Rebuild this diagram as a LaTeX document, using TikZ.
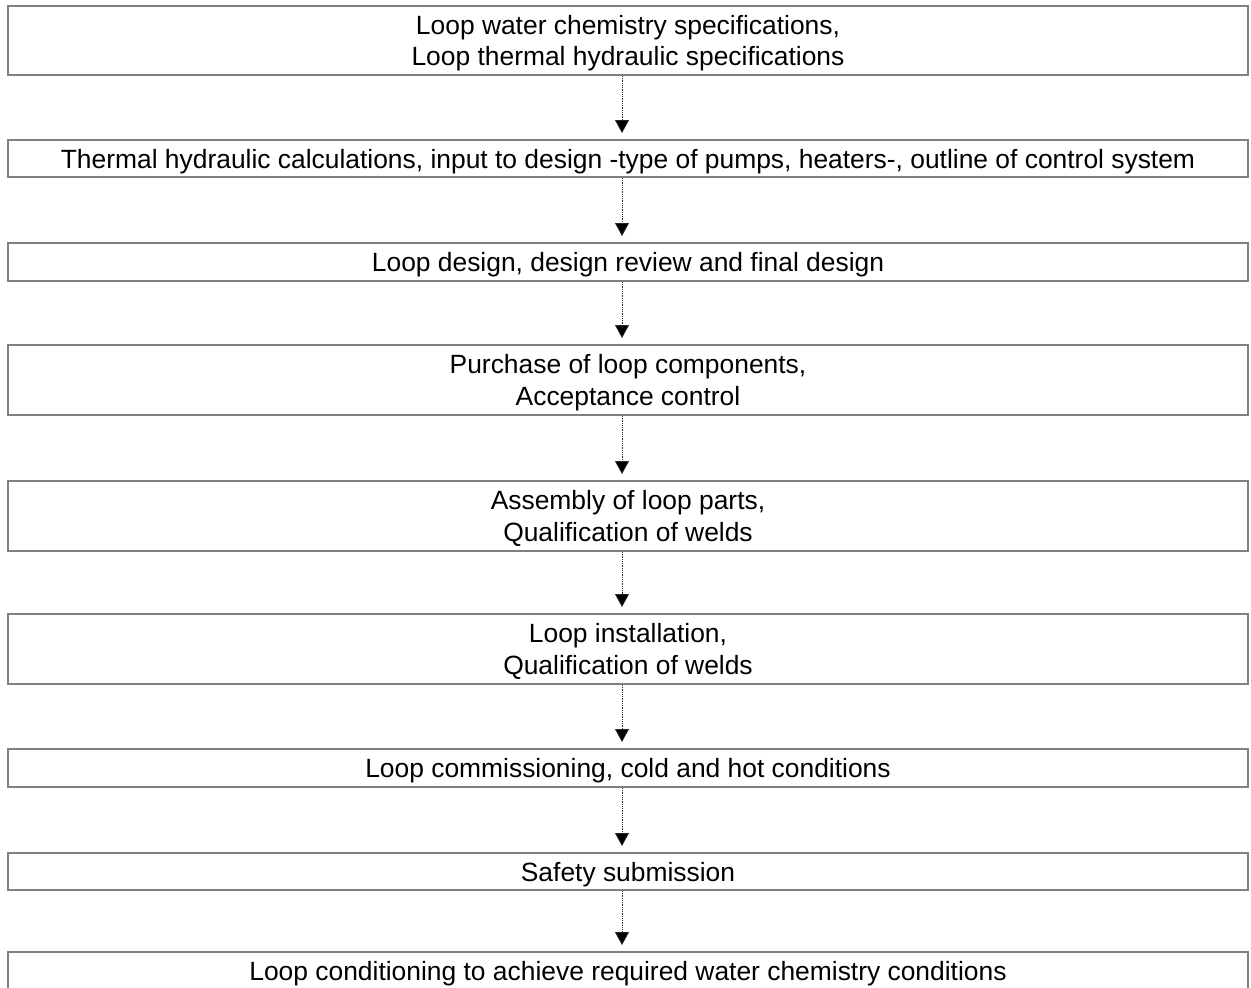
\documentclass[tikz,border=0pt]{standalone}
\usepackage{fontspec}
\setmainfont{Liberation Sans}
\usetikzlibrary{arrows.meta}
\definecolor{boxgray}{HTML}{808080}
\tikzset{
  stagebox/.style={draw=boxgray, line width=2pt, inner sep=0pt, minimum width=1240pt,
    align=center, text depth=0pt, font=\fontsize{26.4}{31.5}\selectfont},
  flowarrow/.style={densely dotted, line width=0.8pt, draw=black!85,
    -{Triangle[width=14pt,length=13pt,fill=black]}, shorten >=6pt},
}
\begin{document}
\begin{tikzpicture}[x=1pt,y=-1pt]
\useasboundingbox (0,0) rectangle (1251,988);
\node[stagebox, minimum height=69pt] (b1) at (628,40.5) {Loop water chemistry specifications,\\Loop thermal hydraulic specifications};
\node[stagebox, minimum height=37pt] (b2) at (628,158.5) {Thermal hydraulic calculations, input to design -type of pumps, heaters-, outline of control system};
\node[stagebox, minimum height=38pt] (b3) at (628,262) {Loop design, design review and final design};
\node[stagebox, minimum height=70pt] (b4) at (628,380) {Purchase of loop components,\\Acceptance control};
\node[stagebox, minimum height=70pt] (b5) at (628,516) {Assembly of loop parts,\\Qualification of welds};
\node[stagebox, minimum height=70pt] (b6) at (628,649) {Loop installation,\\Qualification of welds};
\node[stagebox, minimum height=38pt] (b7) at (628,768) {Loop commissioning, cold and hot conditions};
\node[stagebox, minimum height=37pt] (b8) at (628,871.5) {Safety submission};
\node[stagebox, minimum height=38pt] (b9) at (628,971) {Loop conditioning to achieve required water chemistry conditions};
\coordinate (ax) at (622,0);
\foreach \a/\b in {b1/b2,b2/b3,b3/b4,b4/b5,b5/b6,b6/b7,b7/b8,b8/b9}{
  \draw[flowarrow] (\a.south -| ax) -- (\b.north -| ax);
}
\end{tikzpicture}
\end{document}
